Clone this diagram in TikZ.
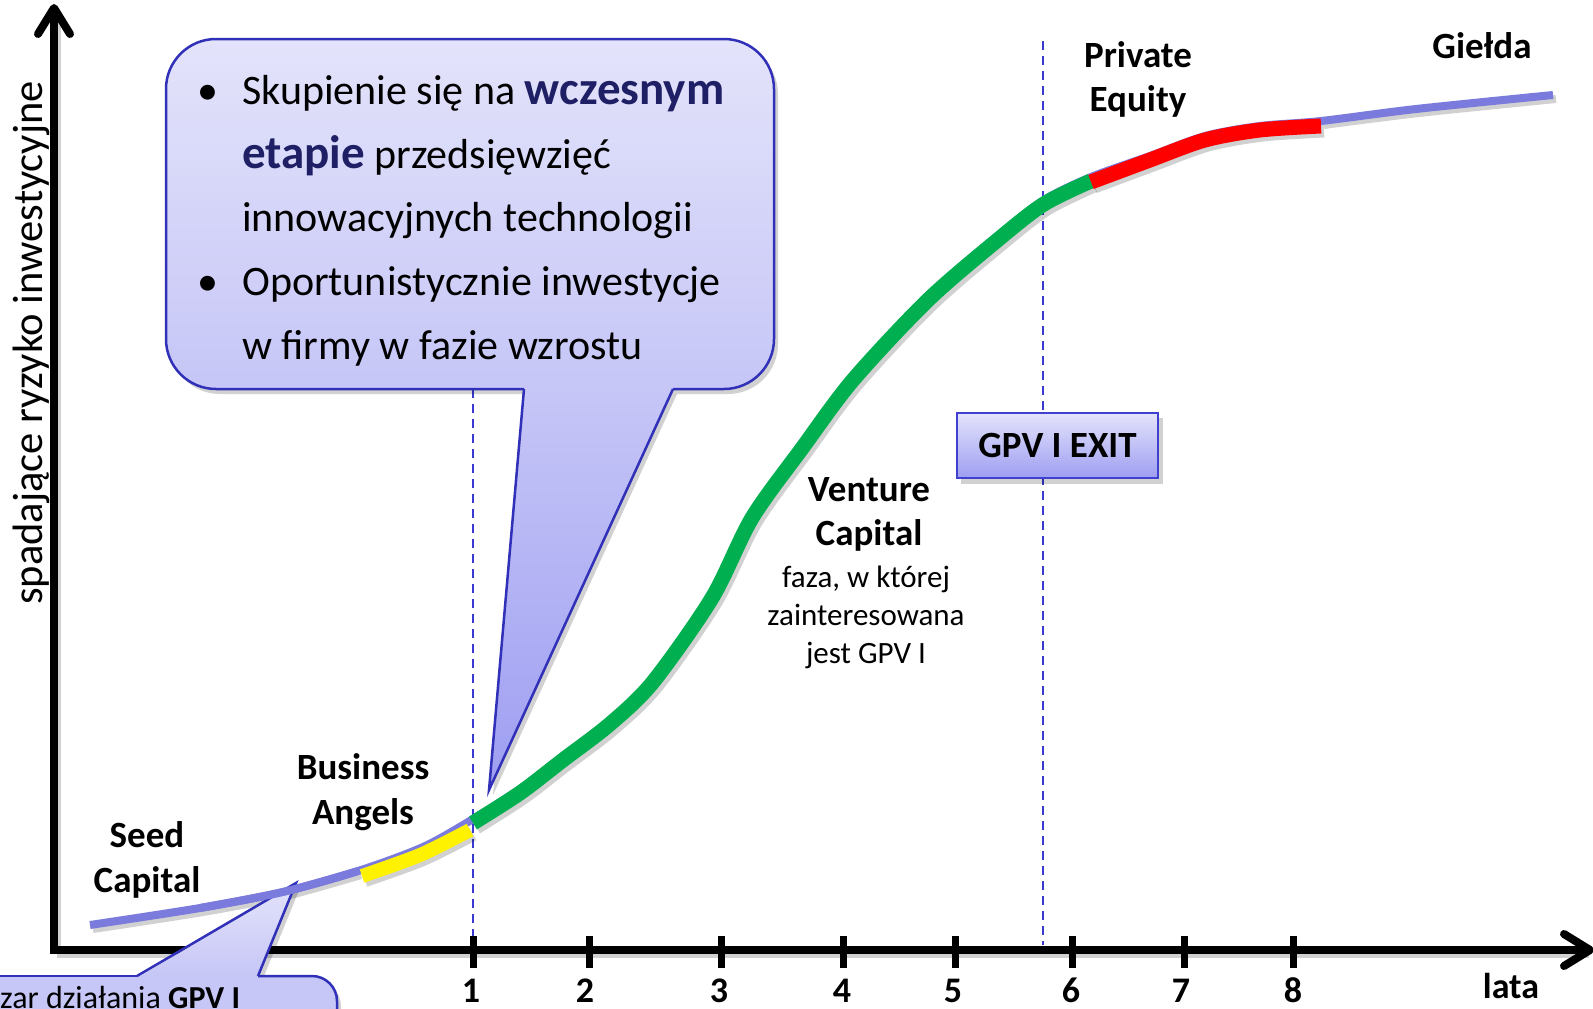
\documentclass[tikz,border=0pt]{standalone}
\usepackage{fontspec}
\setmainfont{Carlito}
\usetikzlibrary{calc}
\definecolor{cfillA}{HTML}{E3E3FB}
\definecolor{cfillB}{HTML}{C6C6F7}
\definecolor{cfillC}{HTML}{9E9EF2}
\definecolor{cborder}{HTML}{3030B8}
\definecolor{curveblue}{HTML}{7B7BDE}
\definecolor{vgreen}{HTML}{00B050}
\definecolor{navytext}{HTML}{1F1F66}
\definecolor{dashblue}{HTML}{3A3AD0}
\definecolor{boxborder}{HTML}{4040D0}
\tikzset{
  axisline/.style={line width=8pt, black},
  chev/.style={line width=8pt, black, line cap=round, line join=round},
  tickmark/.style={line width=7pt, black},
  guide/.style={dashblue, line width=2pt, dash pattern=on 9pt off 6pt},
  shadowfill/.style={black, opacity=0.18},
  lbl/.style={font=\fontsize{37}{45}\selectfont\bfseries, anchor=base, inner sep=0pt},
  small/.style={font=\fontsize{31}{38}\selectfont, anchor=base, inner sep=0pt},
  calltext/.style={font=\fontsize{42}{64}\selectfont, anchor=base west, inner sep=0pt},
  bullet/.style={font=\fontsize{42}{64}\selectfont, anchor=base, inner sep=0pt},
  numlbl/.style={font=\fontsize{36}{40}\selectfont\bfseries, anchor=base, inner sep=0pt},
  outline/.style={cborder, line width=2.5pt},
  gpvbox/.style={draw=boxborder, line width=2.5pt, top color=cfillA, bottom color=cfillC,
    minimum width=201pt, minimum height=65pt, inner sep=0pt,
    font=\fontsize{37}{40}\selectfont\bfseries},
}
\newcommand{\hiword}[1]{\textcolor{navytext}{\fontsize{47}{64}\selectfont\bfseries #1}}
\begin{document}
\begin{tikzpicture}[x=1pt, y=-1pt]
\useasboundingbox (0,0) rectangle (1593,1009);
\clip (0,0) rectangle (1593,1009);

% named reference points
\coordinate (O) at (54,950);
\coordinate (ytop) at (54,8);
\coordinate (xend) at (1590,950);
\coordinate (g1top) at (473,389);
\coordinate (g1bot) at (473,950);
\coordinate (g2top) at (1043,41);
\coordinate (g2bot) at (1043,945);

% guide lines
\draw[guide] (g1top) -- (g1bot);
\draw[guide] (g2top) -- (g2bot);

% curve shadows
\begin{scope}[shift={(3,4)}]
\draw[shadowfill, line width=8pt] plot[smooth] coordinates {(90,925) (200,908) (283,892) (358,871)};
\draw[shadowfill, line width=14pt] plot[smooth] coordinates {(362,876) (420,855) (470,830)};
\draw[shadowfill, line width=15pt] plot[smooth] coordinates {(473,823) (520,793) (563,760) (610,724) (653,682) (712,598) (752,518) (803,447) (853,380) (928,300) (1000,238) (1044,204) (1091,181)};
\draw[shadowfill, line width=15pt] plot[smooth] coordinates {(1091,182) (1150,160) (1205,140) (1260,130) (1321,126)};
\draw[shadowfill, line width=8pt] plot[smooth] coordinates {(1321,121) (1416,109) (1553,95)};
\end{scope}

% main curve (purple)
\draw[curveblue, line width=8pt] plot[smooth] coordinates {(90,925) (200,908) (283,892) (358,871) (423,847) (473,819) (520,789) (563,756) (610,720) (653,678) (712,594) (752,514) (803,443) (853,376) (928,296) (1000,234) (1044,200) (1091,177) (1150,156) (1205,136) (1260,126) (1321,121) (1416,109) (1553,95)};
% coloured phases
\draw[yellow, line width=14pt] plot[smooth] coordinates {(362,876) (420,855) (470,830)};
\draw[vgreen, line width=15pt] plot[smooth] coordinates {(473,823) (520,793) (563,760) (610,724) (653,682) (712,598) (752,518) (803,447) (853,380) (928,300) (1000,238) (1044,204) (1091,181)};
\draw[red, line width=15pt] plot[smooth] coordinates {(1091,182) (1150,160) (1205,140) (1260,130) (1321,126)};

% big callout
\fill[shadowfill, rounded corners=50pt] (170,44) rectangle (778,394);
\fill[shadowfill] (528,394) -- (493,795) -- (677,394) -- cycle;
\shade[top color=cfillA, bottom color=cfillB, rounded corners=50pt] (166,39) rectangle (774,389);
\shade[top color=cfillB, bottom color=cfillC] (524,387) -- (489,790) -- (673,387) -- cycle;
\draw[outline, rounded corners=50pt] (524,389) -- (166,389) -- (166,39) -- (774,39) -- (774,389) -- (673,389);
\draw[outline, line join=miter] (524,389) -- (489,790) -- (673,389);

\node[bullet] (b1) at (208,104) {•};
\node[bullet] (b2) at (208,295) {•};
\node[calltext] (t1) at (242,104) {Skupienie się na \hiword{wczesnym}};
\node[calltext] (t2) at (242,168) {\hiword{etapie} przedsięwzięć};
\node[calltext] (t3) at (242,231) {innowacyjnych technologii};
\node[calltext] (t4) at (242,295) {Oportunistycznie inwestycje};
\node[calltext] (t5) at (242,359) {w firmy w fazie wzrostu};

% GPV I EXIT box
\fill[shadowfill] (961,418) rectangle (1163,484);
\node[gpvbox] (exit) at (1057.5,445.5) {GPV I EXIT};

% axes shadow
\begin{scope}[shift={(3,4)}]
\draw[shadowfill, line width=8pt] (54,950) -- (54,12);
\draw[shadowfill, line width=8pt] (54,950) -- (1586,950);
\end{scope}
% axes
\draw[axisline] (O) -- ($(ytop)+(0,4)$);
\draw[chev] ($(ytop)+(-16,26)$) -- (ytop) -- ($(ytop)+(16,26)$);
\draw[axisline] ($(O)+(-4,0)$) -- ($(xend)+(-4,0)$);
\draw[chev] ($(xend)+(-26,-16)$) -- (xend) -- ($(xend)+(-26,16)$);
\foreach \tx in {473,589,721,843,955,1072,1184,1293} {
  \draw[tickmark] (\tx,936) -- (\tx,968);
}
\foreach \lx/\lt in {471/1,585/2,719/3,842/4,953/5,1071/6,1181/7,1293/8} {
  \node[numlbl] (n\lt) at (\lx,1002) {\lt};
}
\node[numlbl] (lata) at (1511,998) {lata};

% y axis label
\node[font=\fontsize{42.5}{50}\selectfont, rotate=90, anchor=base, inner sep=0pt] (ylab) at (42,343) {spadające ryzyko inwestycyjne};

% bottom-left callout
\fill[shadowfill, rounded corners=25pt] (-40,981) rectangle (341,1060);
\fill[shadowfill] (141,981) -- (300,888) -- (262,981) -- cycle;
\shade[top color=cfillA, bottom color=cfillB] (137,978) -- (296,883) -- (258,978) -- cycle;
\fill[cfillB, rounded corners=25pt] (-40,976) rectangle (337,1060);
\draw[outline, rounded corners=25pt] (258,976) -- (337,976) -- (337,1060);
\draw[outline] (-40,976) -- (137,976);
\draw[outline, line join=miter] (137,976) -- (296,883) -- (258,976);
\node[font=\fontsize{32}{38}\selectfont, anchor=base west, inner sep=0pt] (area) at (0,1008) {zar działania \textbf{GPV I}};

% curve segment over bottom callout tip
\draw[curveblue, line width=8pt] plot[smooth] coordinates {(200,908) (283,892) (358,871)};

% phase labels
\node[lbl] (seed1) at (147,847) {Seed};
\node[lbl] (seed2) at (147,892) {Capital};
\node[lbl] (ba1) at (363,779) {Business};
\node[lbl] (ba2) at (363,824) {Angels};
\node[lbl] (vc1) at (869,501) {Venture};
\node[lbl] (vc2) at (869,545) {Capital};
\node[small] (vc3) at (866,587) {faza, w której};
\node[small] (vc4) at (866,625) {zainteresowana};
\node[small] (vc5) at (866,663) {jest GPV I};
\node[lbl] (pe1) at (1138,67) {Private};
\node[lbl] (pe2) at (1138,111) {Equity};
\node[lbl] (gie) at (1482,58) {Giełda};
\end{tikzpicture}
\end{document}
